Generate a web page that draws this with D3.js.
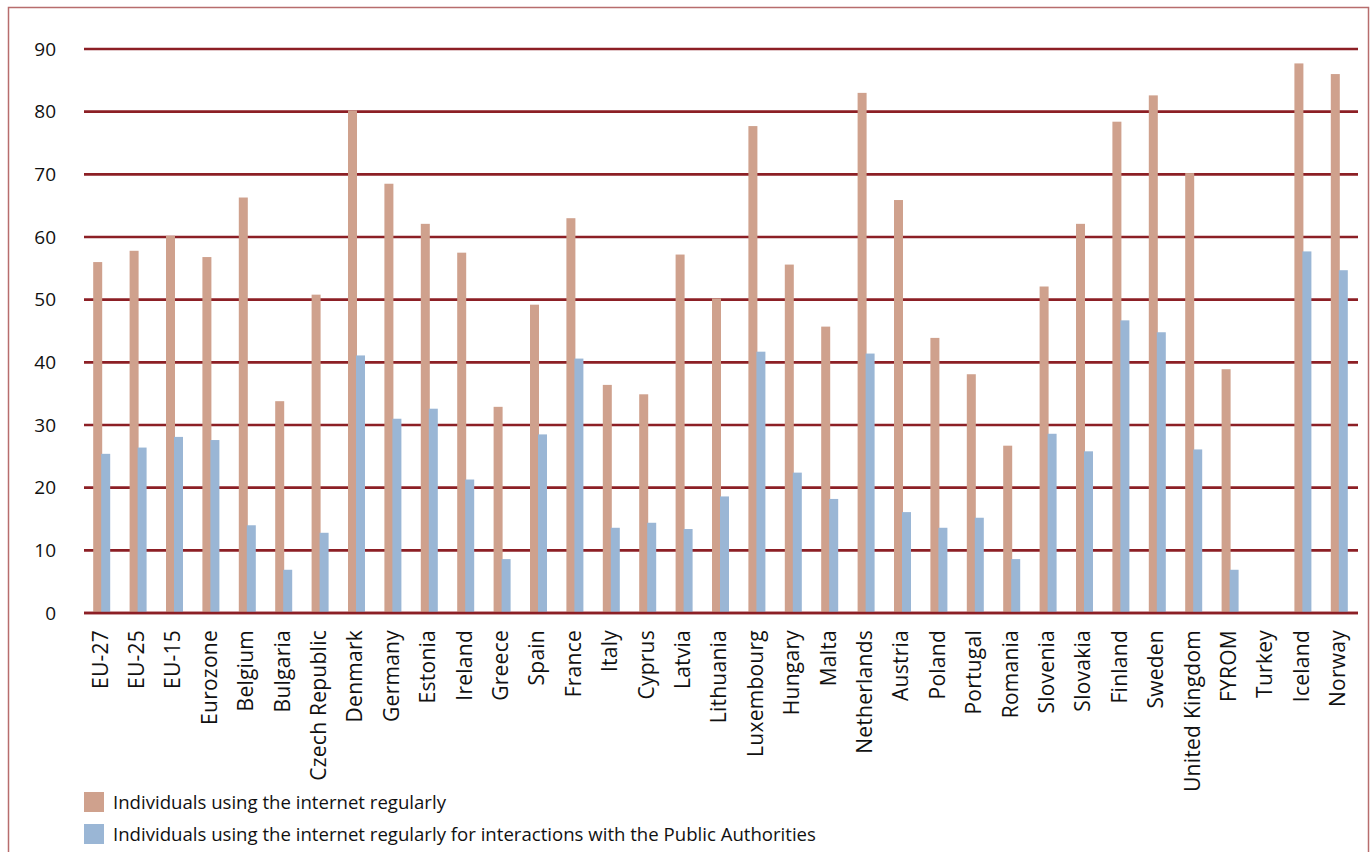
<!DOCTYPE html>
<html>
<head>
<meta charset="utf-8">
<script src="https://cdn.jsdelivr.net/npm/d3@7"></script>
<style>
  body { margin: 0; background: #fff; }
  svg { display: block; font-family: "Open Sans", "Noto Sans", sans-serif; }
  .tick-label { font-size: 19px; fill: #111; }
  .cat-label { font-size: 21px; letter-spacing: 0.25px; fill: #111; }
  .legend-text { font-size: 18.6px; fill: #111; }
</style>
</head>
<body>
<svg id="mainCanvas" width="1370" height="852"></svg>
<script>
var width = 1370;
var height = 852;

var countries = ['EU-27', 'EU-25', 'EU-15', 'Eurozone', 'Belgium', 'Bulgaria', 'Czech Republic',
    'Denmark', 'Germany', 'Estonia', 'Ireland', 'Greece', 'Spain', 'France', 'Italy', 'Cyprus',
    'Latvia', 'Lithuania', 'Luxembourg', 'Hungary', 'Malta', 'Netherlands', 'Austria', 'Poland',
    'Portugal', 'Romania', 'Slovenia', 'Slovakia', 'Finland', 'Sweden', 'United Kingdom', 'FYROM',
    'Turkey', 'Iceland', 'Norway'];

// individuals using the internet regularly
var regularUse = [56, 57.8, 60.2, 56.8, 66.3, 33.8, 50.8, 80.2, 68.5, 62.1, 57.5, 32.9, 49.2, 63,
    36.4, 34.9, 57.2, 50.2, 77.7, 55.6, 45.7, 83, 65.9, 43.9, 38.1, 26.7, 52.1, 62.1, 78.4, 82.6,
    70.2, 38.9, null, 87.7, 86];

// ... of which for interactions with public authorities
var publicAuth = [25.4, 26.4, 28.1, 27.6, 14, 6.9, 12.8, 41.1, 31, 32.6, 21.3, 8.6, 28.5, 40.6,
    13.6, 14.4, 13.4, 18.6, 41.7, 22.4, 18.2, 41.4, 16.1, 13.6, 15.2, 8.6, 28.6, 25.8, 46.7, 44.8,
    26.1, 6.9, null, 57.7, 54.7];

var yTicks = [0, 10, 20, 30, 40, 50, 60, 70, 80, 90];

var seriesNames = ['Individuals using the internet regularly',
    'Individuals using the internet regularly for interactions with the Public Authorities'];
var seriesColors = ['#cfa18d', '#9ab6d5'];

var plotLeft = 84, plotRight = 1358, plotTop = 49, plotBottom = 613;

var svg = d3.select('#mainCanvas');

// outer frame
svg.append('rect')
   .attr('x', 8.5)
   .attr('y', 7.5)
   .attr('width', 1360)
   .attr('height', 860)
   .attr('fill', 'none')
   .attr('stroke', '#b76d6d')
   .attr('stroke-width', 1.5);

var x = d3.scaleBand()
    .domain(countries)
    .range([plotLeft, plotRight]);

var y = d3.scaleLinear()
    .domain([0, 90])
    .range([plotBottom, plotTop]);

var barW = 9;

// grid lines
svg.selectAll('.grid')
   .data(yTicks)
   .enter()
   .append('line')
   .attr('class', 'grid')
   .attr('x1', plotLeft)
   .attr('x2', plotRight)
   .attr('y1', function(d) { return y(d); })
   .attr('y2', function(d) { return y(d); })
   .attr('stroke', '#8c1f25')
   .attr('stroke-width', 2.6);

svg.selectAll('.tick-label')
   .data(yTicks)
   .enter()
   .append('text')
   .attr('class', 'tick-label')
   .attr('x', 56)
   .attr('y', function(d) { return y(d); })
   .attr('dy', '0.35em')
   .attr('text-anchor', 'end')
   .text(function(d) { return d; });

var rows = countries.map(function(c, i) {
    return { name: c, a: regularUse[i], b: publicAuth[i] };
});

var groups = svg.selectAll('.country')
    .data(rows)
    .enter()
    .append('g')
    .attr('class', 'country')
    .attr('transform', function(d) {
        var cx = x(d.name) + x.bandwidth() / 2;
        return 'translate(' + cx + ' 0)';
    });

groups.filter(function(d) { return d.a != null; })
    .append('rect')
    .attr('x', -barW)
    .attr('width', barW)
    .attr('y', function(d) { return y(d.a); })
    .attr('height', function(d) { return plotBottom - y(d.a); })
    .attr('fill', seriesColors[0]);

groups.filter(function(d) { return d.b != null; })
    .append('rect')
    .attr('x', -1)
    .attr('width', barW)
    .attr('y', function(d) { return y(d.b); })
    .attr('height', function(d) { return plotBottom - y(d.b); })
    .attr('fill', seriesColors[1]);

// redraw baseline over bars
svg.append('line')
   .attr('x1', plotLeft)
   .attr('x2', plotRight)
   .attr('y1', y(0))
   .attr('y2', y(0))
   .attr('stroke', '#8c1f25')
   .attr('stroke-width', 2.6);

groups.append('text')
    .attr('class', 'cat-label')
    .attr('transform', 'translate(-2 ' + (plotBottom + 17) + ') rotate(-90)')
    .attr('dy', '0.35em')
    .attr('text-anchor', 'end')
    .text(function(d) { return d.name; });

// legend
var legend = svg.selectAll('.legend')
    .data(seriesNames)
    .enter()
    .append('g')
    .attr('class', 'legend')
    .attr('transform', function(d, i) { return 'translate(84 ' + (792 + i * 32) + ')'; });

legend.append('rect')
    .attr('width', 20)
    .attr('height', 20)
    .attr('fill', function(d, i) { return seriesColors[i]; });

legend.append('text')
    .attr('class', 'legend-text')
    .attr('x', 29)
    .attr('y', 10)
    .attr('dy', '0.35em')
    .text(function(d) { return d; });
</script>
</body>
</html>
